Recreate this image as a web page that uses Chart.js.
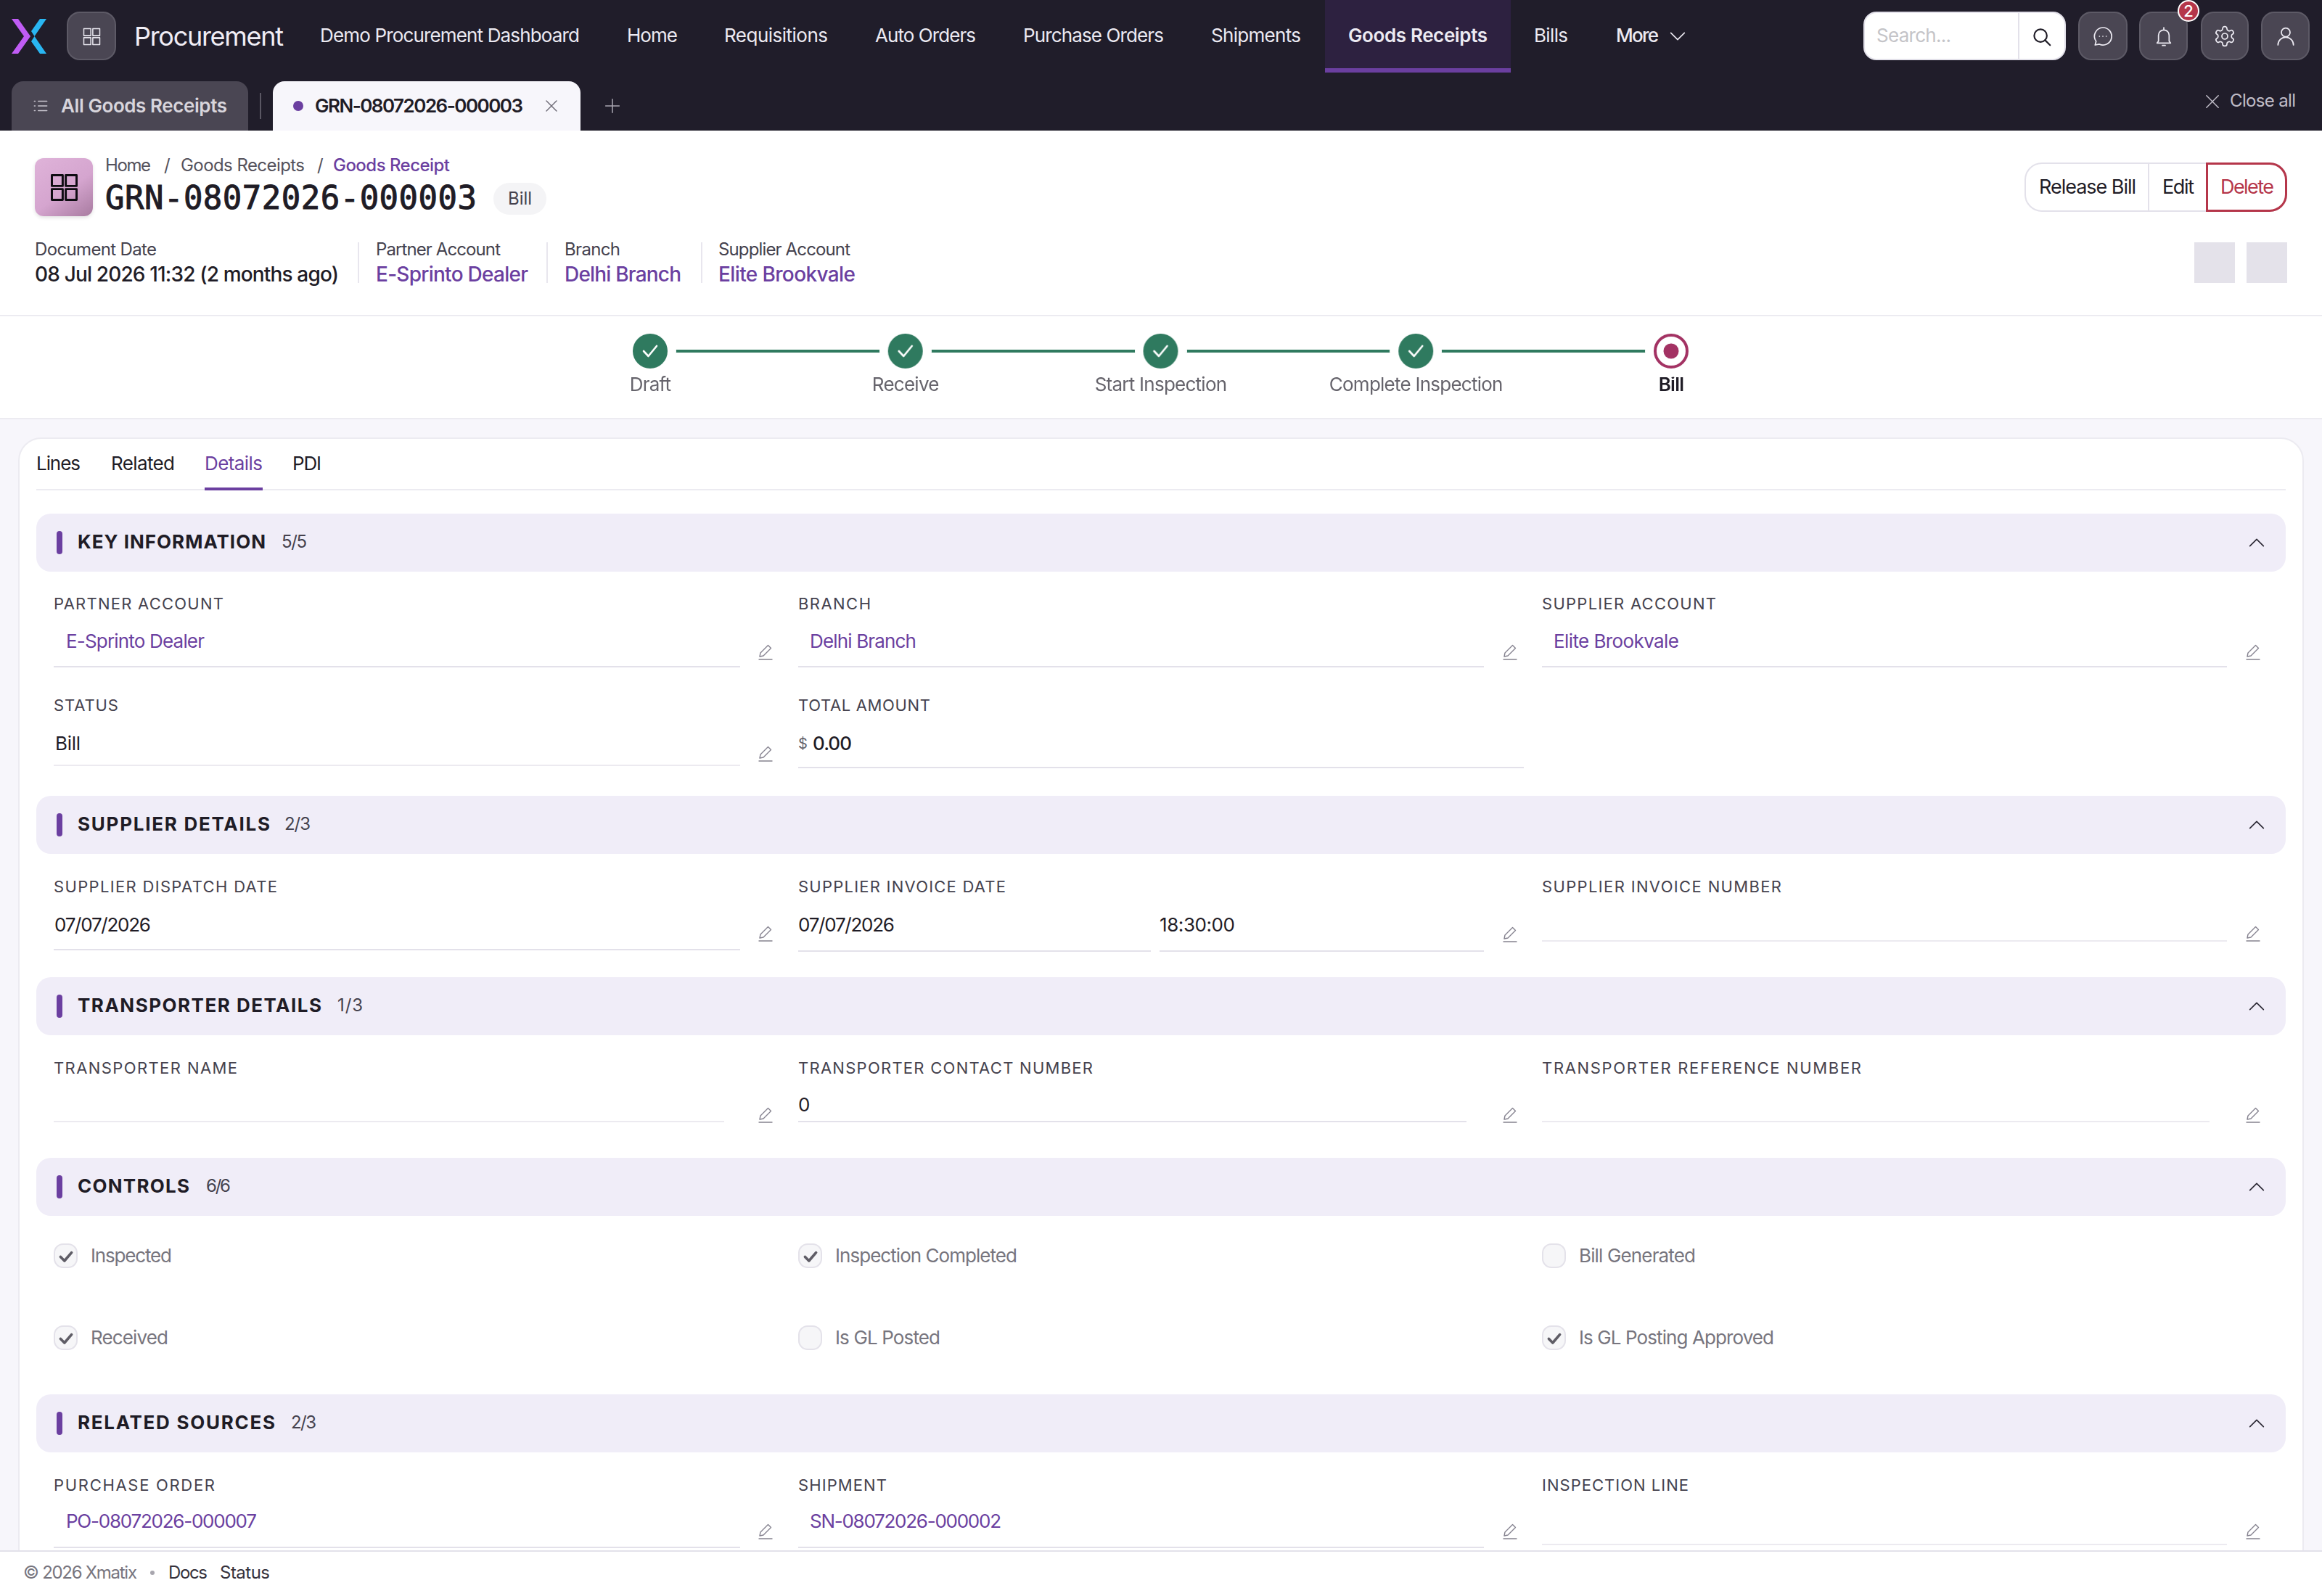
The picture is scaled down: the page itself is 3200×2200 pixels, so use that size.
<!DOCTYPE html>
<html lang="en"><head><meta charset="utf-8"><title>GRN-08072026-000003</title>
<script src="https://cdn.jsdelivr.net/npm/chart.js@4"></script>
<style>
html,body{margin:0;padding:0;width:3200px;height:2200px;overflow:hidden;background:#f7f6fb;font-family:Inter,"Noto Sans",sans-serif}
#app{position:relative;width:3200px;height:2200px;overflow:hidden}
.t{position:absolute;white-space:nowrap;line-height:1;transform:translateY(-50%)}
.r{position:absolute;box-sizing:border-box}
svg.i{position:absolute;fill:none;stroke-linecap:round;stroke-linejoin:round}
canvas{position:absolute}
</style></head><body><div id="app"></div>
<script>
// ---- workflow chart data ----
const stepLabels=["Draft","Receive","Start Inspection","Complete Inspection","Bill"];
const stepProgress=[0,0,0,0,0];
const stepDone=[true,true,true,true,false];

const app=document.getElementById('app');
const INK='#1f1c26',PUR='#6b3fa0',SOFT='#45424e',LINE='#e3e1ea',LITE='#eceaf0',GREY='#77757e';
function R(x,y,w,h,css){const d=document.createElement('div');d.className='r';d.style.cssText=`left:${x}px;top:${y}px;width:${w}px;height:${h}px;${css||''}`;app.appendChild(d);return d}
function T(s,x,y,o={}){const d=document.createElement('div');d.className='t';d.textContent=s;
 d.style.cssText=`left:${x}px;top:${y}px;font-size:${o.size||26}px;color:${o.c||INK};font-weight:${o.w||400};font-family:${o.font||'Inter,sans-serif'}`;
 if(o.css)d.style.cssText+=o.css;
 app.appendChild(d);
 if(o.to){const n=d.getBoundingClientRect().width;d.style.letterSpacing=((o.to-x-n)/Math.max(1,s.length-1)).toFixed(3)+'px'}
 return d}
const ICONS={
 grid:'<rect x="4" y="4" width="7" height="7"/><rect x="13" y="4" width="7" height="7"/><rect x="4" y="13" width="7" height="7"/><rect x="13" y="13" width="7" height="7"/>',
 search:'<circle cx="10.5" cy="10.5" r="7"/><path d="M15.5 15.5L21 21"/>',
 chat:'<path d="M12 3a9 9 0 1 1-3.6 17.2L4 21l1-3.8A9 9 0 0 1 12 3z"/><path d="M8.5 12h.01M12 12h.01M15.5 12h.01"/>',
 bell:'<path d="M6.5 17v-6a5.5 5.5 0 0 1 11 0v6l1.5 2H5z"/><path d="M10.5 21.5h3M12 3v2"/>',
 gear:'<path d="M12.22 2h-.44a2 2 0 0 0-2 2v.18a2 2 0 0 1-1 1.73l-.43.25a2 2 0 0 1-2 0l-.15-.08a2 2 0 0 0-2.73.73l-.22.38a2 2 0 0 0 .73 2.73l.15.1a2 2 0 0 1 1 1.72v.51a2 2 0 0 1-1 1.74l-.15.09a2 2 0 0 0-.73 2.73l.22.38a2 2 0 0 0 2.73.73l.15-.08a2 2 0 0 1 2 0l.43.25a2 2 0 0 1 1 1.73V20a2 2 0 0 0 2 2h.44a2 2 0 0 0 2-2v-.18a2 2 0 0 1 1-1.73l.43-.25a2 2 0 0 1 2 0l.15.08a2 2 0 0 0 2.73-.73l.22-.39a2 2 0 0 0-.73-2.73l-.15-.08a2 2 0 0 1-1-1.74v-.5a2 2 0 0 1 1-1.74l.15-.09a2 2 0 0 0 .73-2.73l-.22-.38a2 2 0 0 0-2.73-.73l-.15.08a2 2 0 0 1-2 0l-.43-.25a2 2 0 0 1-1-1.73V4a2 2 0 0 0-2-2z"/><circle cx="12" cy="12" r="3"/>',
 user:'<circle cx="12" cy="8" r="4.5"/><path d="M4 21a8 8 0 0 1 16 0"/>',
 x:'<path d="M5 5l14 14M19 5L5 19"/>',
 plus:'<path d="M12 4v16M4 12h16"/>',
 list:'<path d="M9 6h11M9 12h11M9 18h11M4 6h1M4 12h1M4 18h1"/>',
 up:'<path d="M4 16l8-8 8 8"/>',
 down:'<path d="M4 8l8 8 8-8"/>',
 pencil:'<path d="M15.5 2.5l4 4L9 17l-5 1 1-5z"/><path d="M3 22h18"/>',
 check:'<path d="M5 12.5l5 5 9-10.5"/>'
};
function I(n,cx,cy,size,color,sw){const s=document.createElementNS('http://www.w3.org/2000/svg','svg');s.setAttribute('class','i');s.setAttribute('viewBox','0 0 24 24');
 s.style.cssText=`left:${cx-size/2}px;top:${cy-size/2}px;width:${size}px;height:${size}px;stroke:${color};stroke-width:${sw||1.5}`;s.innerHTML=ICONS[n];app.appendChild(s);return s}

// ---- top bar ----
R(0,0,3200,180,'background:#201d2a');
R(1826,0,256,100,'background:#2d2140;border-bottom:6px solid '+PUR);
{const s=document.createElementNS('http://www.w3.org/2000/svg','svg');s.setAttribute('viewBox','0 0 48 48');s.style.cssText='position:absolute;left:16px;top:26px;width:48px;height:48px';
 s.innerHTML='<path fill="#c05cf5" d="M0 0h9l17 24L9 48H0l17-24z"/><path fill="#29b6f2" d="M48 0H39L27 17l4.500 7zM48 48H39L27 31l4.500-7z"/>';app.appendChild(s)}
const iconBtn='background:#4a4653;border:2px solid #5d5a66;border-radius:18px';
R(92,16,68,67,iconBtn);I('grid',126,50,33,'#e8e6ee',1.1);
T('Procurement',185,50,{size:36,c:'#f0edf5',to:391});
const nav=[['Demo Procurement Dashboard',441,799],['Home',864,934],['Requisitions',998,1141],['Auto Orders',1206,1345],['Purchase Orders',1410,1604],['Shipments',1669,1793],['Bills',2114,2161]];
nav.forEach(n=>T(n[0],n[1],49,{c:'#eceaf2',to:n[2]}));
T('Goods Receipts',1858,49,{c:'#eceaf2',w:600,to:2050});
T('More',2227,49,{c:'#eceaf2',w:500,to:2286});I('down',2312,50,28,'#eceaf2',1.4);
R(2568,16,279,67,'background:#fff;border:2px solid #e3e1ea;border-radius:18px');
R(2781,18,2,63,'background:#e3e1ea');
T('Search...',2586,49,{c:'#c4c4c8',to:2689});I('search',2814,51,30,'#1f1c26',1.7);
[[2864,2898,'chat'],[2948,2982,'bell'],[3033,3066,'gear'],[3116,3150,'user']].forEach(b=>{R(b[0],16,b[0]===3033?66:b[0]===3116?67:b[0]===2948?67:68,67,iconBtn);I(b[2],b[1],50,32,'#eceaf2',1.3)});
R(3001,0,30,30,'background:#b5364a;border:2px solid #fff;border-radius:50%');
T('2',3016,15,{size:22,c:'#fff',w:500}).style.transform='translate(-50%,-50%)';
// tabs
R(16,112,326,68,'background:#4a4653;border-radius:16px 16px 0 0');
I('list',56,146,26,'#c9c6d0',1.4);T('All Goods Receipts',84,146,{c:'#d8d5dc',w:600,to:313});
R(358,128,2,36,'background:#5a5763');
R(376,112,424,68,'background:#f7f6fb;border-radius:16px 16px 0 0');
R(404,139,14,14,'background:'+PUR+';border-radius:50%');
T('GRN-08072026-000003',434,146,{w:600,to:721});I('x',760,146,24,'#6b6873',1.4);
I('plus',844,146,28,'#aaa7b2',1.3);
I('x',3049,140,28,'#c0bdc8',1.3);T('Close all',3073,139,{size:24,c:'#c0bdc8',to:3164});

// ---- document header ----
R(0,180,3200,254,'background:#fff');R(0,434,3200,2,'background:#ecebf1');
R(48,218,80,80,'background:linear-gradient(145deg,#dfb3d9 0%,#d5a5cf 55%,#a87ba0 100%);border-radius:12px;box-shadow:0 2px 5px rgba(0,0,0,.12)');
I('grid',88,258,51,'#0e0c12',1.4);
T('Home',145,228,{size:24,c:'#55525c',to:208});T('/',226,228,{size:24,c:'#55525c'});
T('Goods Receipts',249,228,{size:24,c:'#55525c',to:420});T('/',437,228,{size:24,c:'#55525c'});
T('Goods Receipt',459,228,{size:24,c:PUR,w:500,to:620});
T('GRN-08072026-000003',145,273,{size:44,font:'"DejaVu Sans Mono",monospace',to:657,css:'-webkit-text-stroke:1px #1f1c26;'});
R(680,252,73,44,'background:#f4f4f6;border-radius:22px');T('Bill',700,274,{size:24,c:'#45424e',to:733});
const meta=[['Document Date','08 Jul 2026 11:32 (2 months ago)',48,216,467,INK],['Partner Account','E-Sprinto Dealer',518,690,728,PUR],['Branch','Delhi Branch',778,855,939,PUR],['Supplier Account','Elite Brookvale',990,1172,1179,PUR]];
meta.forEach(m=>{T(m[0],m[2],344,{size:24,c:SOFT,to:m[3]});T(m[1],m[2],378,{size:28,c:m[5],w:500,to:m[4]})});
[493,753,966].forEach(x=>R(x,334,2,56,'background:#e8e6ee'));
R(2790,224,362,68,'border:2px solid #e3e1ea;border-radius:24px;background:#fff');
R(2960,224,2,68,'background:#e3e1ea');
R(3040,224,112,68,'border:3px solid #b5364a;border-radius:0 24px 24px 0;background:#fff');
T('Release Bill',2810,257,{size:27,to:2944});T('Edit',2980,257,{size:27,to:3024});T('Delete',3060,257,{size:27,c:'#b5364a',to:3134});
R(3024,334,56,56,'background:#e4e2ea');R(3096,334,56,56,'background:#e4e2ea');

// ---- workflow stepper: Chart.js ----
R(0,436,3200,140,'background:#fff');R(0,576,3200,2,'background:#ecebf1');
function stepMark(done){const c=document.createElement('canvas');c.width=72;c.height=72;const g=c.getContext('2d');
 g.fillStyle='#fff';g.beginPath();g.arc(36,36,36,0,7);g.fill();
 if(done){g.fillStyle='#2f7a5f';g.beginPath();g.arc(36,36,24,0,7);g.fill();
  g.strokeStyle='#fff';g.lineWidth=2.6;g.lineCap='round';g.lineJoin='round';g.beginPath();g.moveTo(27,36);g.lineTo(33.5,43);g.lineTo(45,29);g.stroke();}
 else{g.strokeStyle='#a33263';g.lineWidth=4;g.beginPath();g.arc(36,36,22,0,7);g.stroke();g.fillStyle='#a33263';g.beginPath();g.arc(36,36,10.5,0,7);g.fill();}
 return c}
const cv=document.createElement('canvas');cv.style.cssText='left:0;top:440px;width:3200px;height:136px';cv.width=3200;cv.height=136;app.appendChild(cv);
const stepChart=new Chart(cv,{type:'line',
 data:{labels:stepLabels,datasets:[{data:stepProgress,borderColor:'#2f7a5f',borderWidth:4,pointRadius:36,pointHoverRadius:36,clip:false,
  pointStyle:stepDone.map(stepMark),tension:0}]},
 plugins:[{id:'track',beforeDraw(ch){ch.ctx.letterSpacing='-0.75px'}}],
 options:{responsive:false,animation:false,devicePixelRatio:1,
  layout:{autoPadding:false,padding:{left:896,right:897,top:0,bottom:29}},
  plugins:{legend:{display:false},tooltip:{enabled:false}},
  scales:{
   x:{offset:false,border:{display:false},grid:{display:false,drawTicks:false},
    ticks:{padding:0,maxRotation:0,autoSkip:false,font:c=>({family:'Inter',size:26,weight:c.index===4?'600':'400'}),color:c=>c.index===4?'#1f1c26':'#66646c'}},
   y:{display:false,min:-32,max:44}}}});
// ---- card ----
R(25,603,3150,1600,'background:#fff;border:2px solid #ecebf1;border-radius:32px 32px 0 0');
[['Lines',50,111],['Related',153,241],['PDI',403,443]].forEach(n=>T(n[0],n[1],639,{to:n[2]}));
T('Details',282,639,{c:PUR,to:362});
R(50,674,3100,2,'background:#ecebf1');R(282,672,80,4,'background:'+PUR);

function section(top,h,title,tEnd,count,cStart,cEnd){
 R(50,top,3100,h,'background:#f0edf8;border-radius:20px');
 const c=top+h/2;
 R(78,c-16,8,32,'background:'+PUR+';border-radius:4px');
 T(title,107,c-1,{w:700,to:tEnd});T(count,cStart,c-1,{size:24,c:SOFT,to:cEnd});
 I('up',3110,c,28,'#2a2733',1.4);
}
section(708,80,'KEY INFORMATION',366,'5/5',388,423);
section(1097,80,'SUPPLIER DETAILS',372,'2/3',392,428);
section(1347,80,'TRANSPORTER DETAILS',443,'1/3',465,500);
section(1596,80,'CONTROLS',261,'6/6',284,318);
section(1922,80,'RELATED SOURCES',379,'2/3',401,436);

function L(s,x,y,to){T(s,x,y,{size:22,c:SOFT,to})}
function U(x,y,x2,col){R(x,y,x2-x,2,'background:'+(col||LINE))}
function P(x,y){I('pencil',x,y,24,'#85828f',1.4)}
const PX=[1055,2081,3105];
// key information
L('PARTNER ACCOUNT',74,832,308);T('E-Sprinto Dealer',91,884,{c:PUR,to:282});U(74,918,1020);P(PX[0],899);
L('BRANCH',1100,832,1200);T('Delhi Branch',1116,884,{c:PUR,to:1263});U(1100,918,2045);P(PX[1],899);
L('SUPPLIER ACCOUNT',2125,832,2365);T('Elite Brookvale',2141,884,{c:PUR,to:2314});U(2125,918,3069);P(PX[2],899);
L('STATUS',74,972,163);T('Bill',76,1025,{to:111});U(74,1054,1020,LITE);P(PX[0],1039);
L('TOTAL AMOUNT',1100,972,1282);T('$',1100,1025,{size:20,c:'#66646c'});T('0.00',1120,1025,{w:500,to:1174});U(1100,1057,2100);
// supplier
L('SUPPLIER DISPATCH DATE',74,1222,382);T('07/07/2026',75,1275,{to:208});U(74,1308,1020);P(PX[0],1287);
L('SUPPLIER INVOICE DATE',1100,1222,1386);T('07/07/2026',1100,1275,{to:1233});T('18:30:00',1598,1275,{to:1702});U(1100,1310,1586);U(1598,1310,2045);P(PX[1],1288);
L('SUPPLIER INVOICE NUMBER',2125,1222,2455);U(2125,1296,3069,LITE);P(PX[2],1287);
// transporter
L('TRANSPORTER NAME',74,1472,327);U(74,1545,998,LITE);P(PX[0],1537);
L('TRANSPORTER CONTACT NUMBER',1100,1472,1506);T('0',1100,1523);U(1100,1545,2021);P(PX[1],1537);
L('TRANSPORTER REFERENCE NUMBER',2125,1472,2565);U(2125,1545,3045,LITE);P(PX[2],1537);
// controls
function C(x,y,s,to,on){R(x,y-17,33,34,'background:#f6f6f8;border:2px solid #e4e2ea;border-radius:13px');
 if(on)I('check',x+16.5,y+1,26,'#5f5d66',3.4);T(s,x+51,y,{c:'#77757e',to})}
C(74,1731,'Inspected',237,true);C(1100,1731,'Inspection Completed',1402,true);C(2125,1731,'Bill Generated',2337,false);
C(74,1844,'Received',232,true);C(1100,1844,'Is GL Posted',1296,false);C(2125,1844,'Is GL Posting Approved',2445,true);
// related
L('PURCHASE ORDER',74,2047,296);T('PO-08072026-000007',91,2097,{c:PUR,to:354});U(74,2132,1020);P(PX[0],2111);
L('SHIPMENT',1100,2047,1222);T('SN-08072026-000002',1116,2097,{c:PUR,to:1380});U(1100,2132,2045);P(PX[1],2111);
L('INSPECTION LINE',2125,2047,2327);U(2125,2128,3069,LITE);P(PX[2],2111);
// ---- footer ----
R(0,2137,3200,63,'background:#fff;border-top:2px solid #e3e1ea');
T('© 2026 Xmatix',32,2168,{size:24,c:GREY,to:189});R(207,2165,6,6,'background:#a8a6ae;border-radius:50%');
T('Docs',232,2168,{size:24,c:'#35323c',to:286});T('Status',303,2168,{size:24,c:'#35323c',to:372});
</script></body></html>
